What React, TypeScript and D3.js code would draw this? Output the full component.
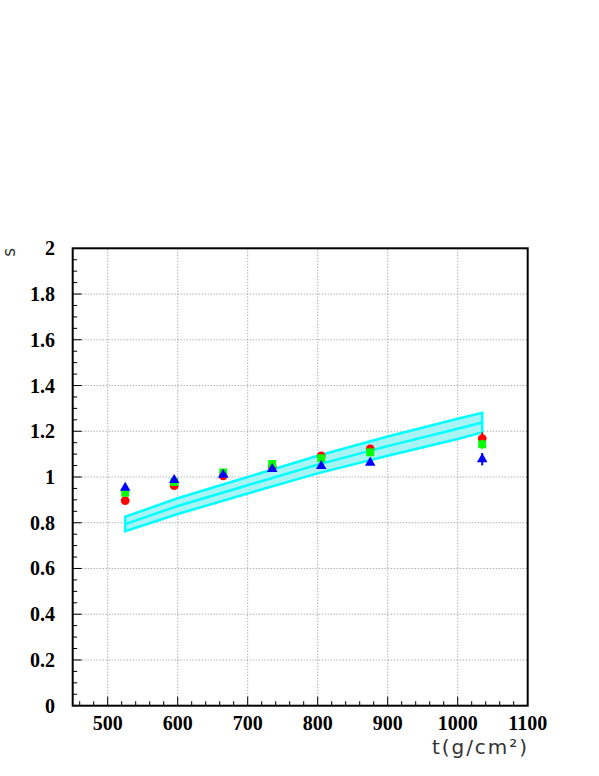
import * as d3 from "d3";

// measured points (t in g/cm^2)
const tValues = [525, 595, 665, 735, 805, 875, 1035];
const redValues = [0.897, 0.962, 1.005, 1.045, 1.092, 1.123, 1.168];
const greenValues = [0.931, 0.978, 1.02, 1.057, 1.082, 1.108, 1.143];
const blueValues = [0.953, 0.987, 1.01, 1.035, 1.048, 1.063, 1.078];
const redErrors = [0, 0, 0, 0, 0, 0, 0.027];
const greenErrors = [0, 0, 0, 0, 0, 0, 0.02];
const blueErrors = [0, 0, 0, 0, 0, 0, 0.027];

// model band
const bandT = [525, 600, 700, 800, 900, 1000, 1035];
const bandCenter = [0.794, 0.873, 0.964, 1.054, 1.135, 1.211, 1.238];
const bandUpper = [0.826, 0.907, 1.0, 1.093, 1.177, 1.255, 1.281];
const bandLower = [0.763, 0.838, 0.928, 1.016, 1.093, 1.166, 1.195];

const xMajor = [500, 600, 700, 800, 900, 1000, 1100];
const yMajor = [0, 0.2, 0.4, 0.6, 0.8, 1, 1.2, 1.4, 1.6, 1.8, 2];

const W = 599;
const H = 776;

export default function App() {
  const x = d3.scaleLinear().domain([450, 1100]).range([72.7, 527.7]);
  const y = d3.scaleLinear().domain([0, 2]).range([705.7, 248.3]);
  const [x0, x1] = x.range();
  const [y0, y1] = y.range();

  const xMinor = d3.range(460, 1100, 20);
  const yMinor = d3.range(0.05, 2, 0.05);

  const area = d3
    .area<number>()
    .x((_, i) => x(bandT[i]))
    .y0((_, i) => y(bandLower[i]))
    .y1((_, i) => y(bandUpper[i]));
  const centerLine = d3
    .line<number>()
    .x((_, i) => x(bandT[i]))
    .y((d) => y(d));

  const series = [
    { vals: redValues, errs: redErrors, color: "#ff0000", sym: d3.symbolCircle, size: 60 },
    { vals: greenValues, errs: greenErrors, color: "#00ff00", sym: d3.symbolSquare, size: 62 },
    { vals: blueValues, errs: blueErrors, color: "#0000ff", sym: d3.symbolTriangle, size: 48 },
  ];

  const tickFont = "'Liberation Serif', 'Times New Roman', serif";

  return (
    <svg
      width={W}
      height={H}
      style={{ position: "absolute", left: 0, top: 0, background: "#fff" }}
    >
      <rect width={W} height={H} fill="#fff" />

      {/* grid */}
      {xMajor.slice(0, -1).map((v) => (
        <line
          key={"gx" + v}
          x1={x(v)}
          x2={x(v)}
          y1={y0}
          y2={y1}
          stroke="#8c8c8c"
          strokeWidth={1}
          strokeDasharray="1,2"
        />
      ))}
      {yMajor.slice(1, -1).map((v) => (
        <line
          key={"gy" + v}
          x1={x0}
          x2={x1}
          y1={y(v)}
          y2={y(v)}
          stroke="#8c8c8c"
          strokeWidth={1}
          strokeDasharray="1,2"
        />
      ))}

      {/* ticks */}
      {xMinor.map((v) => (
        <line key={"xm" + v} x1={x(v)} x2={x(v)} y1={y0} y2={y0 - (v % 100 === 0 ? 9 : 4.5)} stroke="#000" strokeWidth={1} />
      ))}
      {yMinor.map((v, i) => (
        <line
          key={"ym" + i}
          x1={x0}
          x2={x0 + ((i + 1) % 4 === 0 ? 9 : 4.5)}
          y1={y(v)}
          y2={y(v)}
          stroke="#000"
          strokeWidth={1}
        />
      ))}

      {/* band */}
      <path d={area(bandT) ?? ""} fill="#a8f4f4" stroke="#00ffff" strokeWidth={2.5} />
      <path d={centerLine(bandCenter) ?? ""} fill="none" stroke="#00ffff" strokeWidth={2.5} />

      {/* points */}
      {series.map((s, si) => (
        <g key={"s" + si}>
          {s.vals.map((v, i) =>
            s.errs[i] > 0 ? (
              <line
                key={"e" + i}
                x1={x(tValues[i])}
                x2={x(tValues[i])}
                y1={y(v - s.errs[i])}
                y2={y(v + s.errs[i])}
                stroke={s.color}
                strokeWidth={2}
              />
            ) : null
          )}
          {s.vals.map((v, i) => (
            <path
              key={"p" + i}
              transform={`translate(${x(tValues[i])},${y(v)})`}
              d={d3.symbol().type(s.sym).size(s.size)() ?? ""}
              fill={s.color}
            />
          ))}
        </g>
      ))}

      {/* frame */}
      <rect x={x0} y={y1} width={x1 - x0} height={y0 - y1} fill="none" stroke="#000" strokeWidth={2} />

      {/* tick labels */}
      {xMajor.map((v) => (
        <text
          key={"xl" + v}
          x={x(v)}
          y={729.5}
          textAnchor="middle"
          fontFamily={tickFont}
          fontWeight="bold"
          fontSize={20}
        >
          {v}
        </text>
      ))}
      {yMajor.map((v) => (
        <text
          key={"yl" + v}
          x={55}
          y={y(v)}
          dy="0.35em"
          textAnchor="end"
          fontFamily={tickFont}
          fontWeight="bold"
          fontSize={20}
        >
          {d3.format("~g")(v)}
        </text>
      ))}

      {/* axis titles */}
      <text
        x={527}
        y={753.5}
        textAnchor="end"
        fontFamily="'DejaVu Sans', 'Liberation Sans', sans-serif"
        fontSize={20}
        fill="#333"
        textLength={95}
        lengthAdjust="spacing"
      >
        t(g/cm²)
      </text>
      <text
        transform="translate(15,248) rotate(-90)"
        textAnchor="end"
        fontFamily="'DejaVu Sans', 'Liberation Sans', sans-serif"
        fontSize={17}
        fill="#333"
      >
        s
      </text>
    </svg>
  );
}
